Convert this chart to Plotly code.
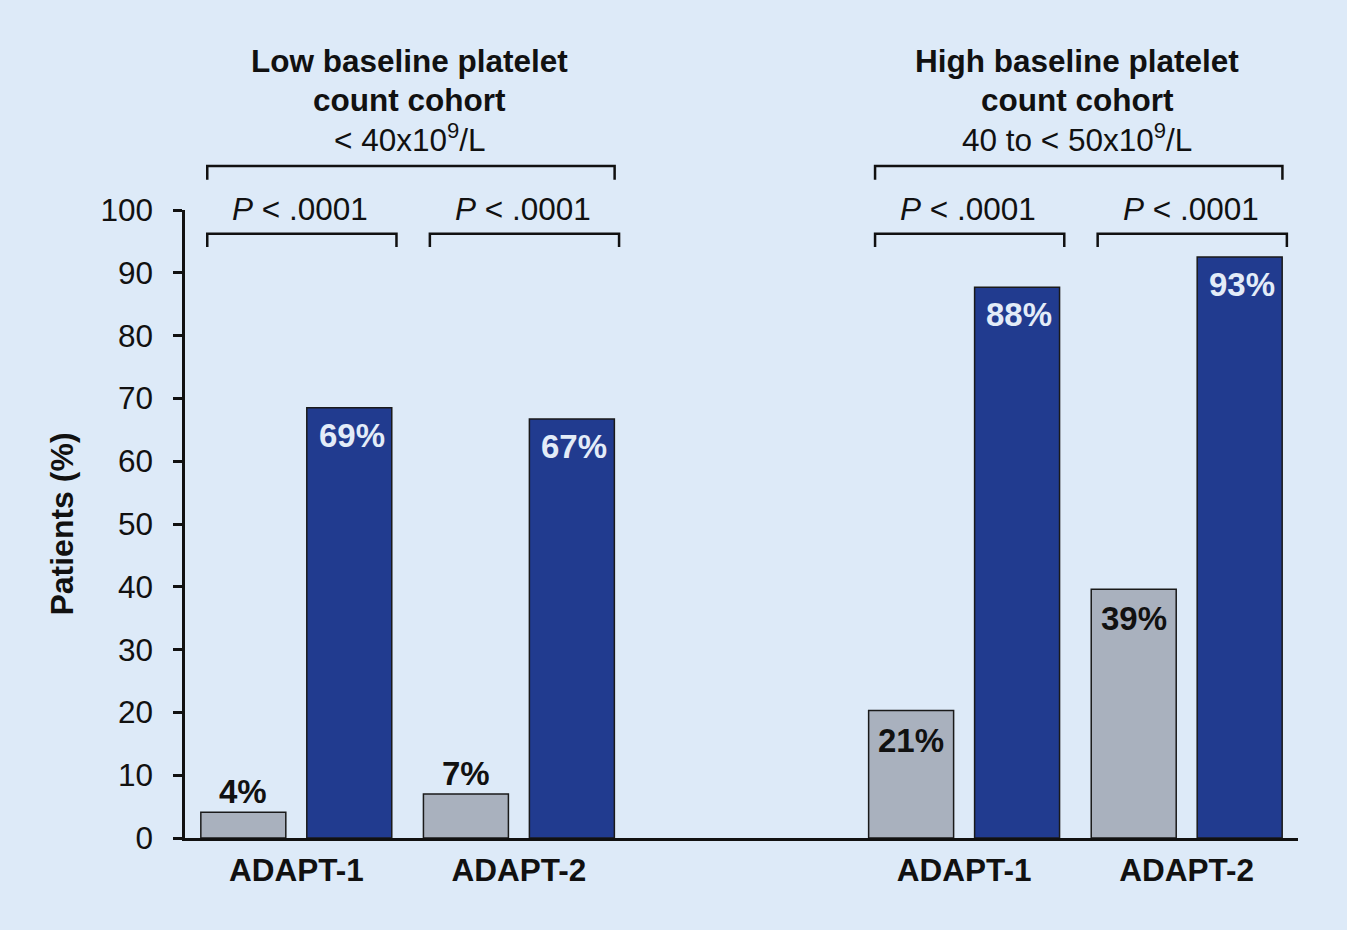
import plotly.graph_objects as go

# ---- data ----
cohort_titles = ["Low baseline platelet", "High baseline platelet"]
cohort_subtitles = ["< 40x10<sup>9</sup>/L", "40 to < 50x10<sup>9</sup>/L"]
trials = ["ADAPT-1", "ADAPT-2", "ADAPT-1", "ADAPT-2"]
placebo = [4.1, 7.0, 20.3, 39.6]          # bar heights
treatment = [68.5, 66.7, 87.7, 92.5]
placebo_labels = ["4%", "7%", "21%", "39%"]
treatment_labels = ["69%", "67%", "88%", "93%"]
p_values = ["<i>P</i> < .0001", "<i>P</i> < .0001", "<i>P</i> < .0001", "<i>P</i> < .0001"]
y_ticks = [0, 10, 20, 30, 40, 50, 60, 70, 80, 90, 100]

# ---- layout helpers ----
slots = [0, 1, 3, 4]          # spacer slot at 2 separates the cohorts
BG = "#ddeaf8"
GRAY = "#a9b1be"
BLUE = "#213b8f"
FONT = "Liberation Sans"
FS = 31.5
FL = 33

fig = go.Figure()
fig.add_trace(go.Bar(x=slots, y=placebo, name="Placebo",
                     marker=dict(color=GRAY, line=dict(color="#1a1a1a", width=1.5))))
fig.add_trace(go.Bar(x=slots, y=treatment, name="Avatrombopag",
                     marker=dict(color=BLUE, line=dict(color="#1a1a1a", width=1.5))))

annotations = []
shapes = []
off = 0.238  # bar centre offset from slot centre (group layout)
for s, v, t in zip(slots, placebo, placebo_labels):
    if v < 10:
        annotations.append(dict(x=s - off, y=v, xref="x", yref="y", text=f"<b>{t}</b>",
                                showarrow=False, yanchor="bottom", yshift=0,
                                font=dict(family=FONT, size=FL, color="#111111")))
    else:
        annotations.append(dict(x=s - off, y=v, xref="x", yref="y", text=f"<b>{t}</b>",
                                showarrow=False, yanchor="top", yshift=-9,
                                font=dict(family=FONT, size=FL, color="#111111")))
for s, v, t in zip(slots, treatment, treatment_labels):
    annotations.append(dict(x=s + off + 0.01, y=v, xref="x", yref="y", text=f"<b>{t}</b>",
                            showarrow=False, yanchor="top", yshift=-7,
                            font=dict(family=FONT, size=FL, color="#e3ecf8")))

# pair brackets and P values
for s, p in zip(slots, p_values):
    x0, x1 = s - 0.40, s + 0.45
    shapes.append(dict(type="path", xref="x", yref="paper",
                       path=f"M {x0} 0.941 L {x0} 0.962 L {x1} 0.962 L {x1} 0.941",
                       line=dict(color="#111111", width=2.5)))
    annotations.append(dict(x=s, y=1.0016, xref="x", yref="paper", text=p, showarrow=False,
                            yanchor="middle", xshift=4,
                            font=dict(family=FONT, size=FS, color="#111111")))

# cohort brackets and titles
for i, (title, sub) in enumerate(zip(cohort_titles, cohort_subtitles)):
    a, b = slots[2 * i], slots[2 * i + 1]
    x0, x1 = a - 0.40, b + 0.43
    shapes.append(dict(type="path", xref="x", yref="paper",
                       path=f"M {x0} 1.048 L {x0} 1.070 L {x1} 1.070 L {x1} 1.048",
                       line=dict(color="#111111", width=2.5)))
    mid = (a + b) / 2
    annotations.append(dict(x=mid, y=1.237, xref="x", yref="paper", text=f"<b>{title}</b>",
                            showarrow=False, yanchor="middle", xshift=2,
                            font=dict(family=FONT, size=FS, color="#111111")))
    annotations.append(dict(x=mid, y=1.175, xref="x", yref="paper", text="<b>count cohort</b>",
                            showarrow=False, yanchor="middle", xshift=2,
                            font=dict(family=FONT, size=FS, color="#111111")))
    annotations.append(dict(x=mid, y=1.115, xref="x", yref="paper", text=sub,
                            showarrow=False, yanchor="middle", xshift=2,
                            font=dict(family=FONT, size=FS, color="#111111")))

fig.update_layout(
    width=1347, height=930,
    paper_bgcolor=BG, plot_bgcolor=BG,
    margin=dict(l=185, r=49, t=210, b=92),
    barmode="group", bargap=0.048, bargroupgap=0.198,
    showlegend=False,
    font=dict(family=FONT, size=FS, color="#111111"),
    annotations=annotations, shapes=shapes,
    xaxis=dict(range=[-0.5, 4.5], tickvals=slots, ticktext=[f"<b>{t}</b>" for t in trials],
               showline=True, linecolor="#111111", linewidth=2.5, ticks="",
               showgrid=False, zeroline=False, ticklabelstandoff=2,
               tickfont=dict(family=FONT, size=FS, color="#111111")),
    yaxis=dict(range=[0, 100], tickvals=y_ticks, showline=True, linecolor="#111111",
               linewidth=2.5, ticks="outside", ticklen=9, tickwidth=2.5, tickcolor="#111111",
               showgrid=False, zeroline=False, ticklabelstandoff=14,
               tickfont=dict(family=FONT, size=FS, color="#111111")),
    )
fig.update_yaxes(title=dict(text="<b>Patients (%)</b>", standoff=18,
                            font=dict(family=FONT, size=32, color="#111111")))

fig.write_html("out.html", config={"displayModeBar": False},
               post_script="document.body.style.margin='0';")
